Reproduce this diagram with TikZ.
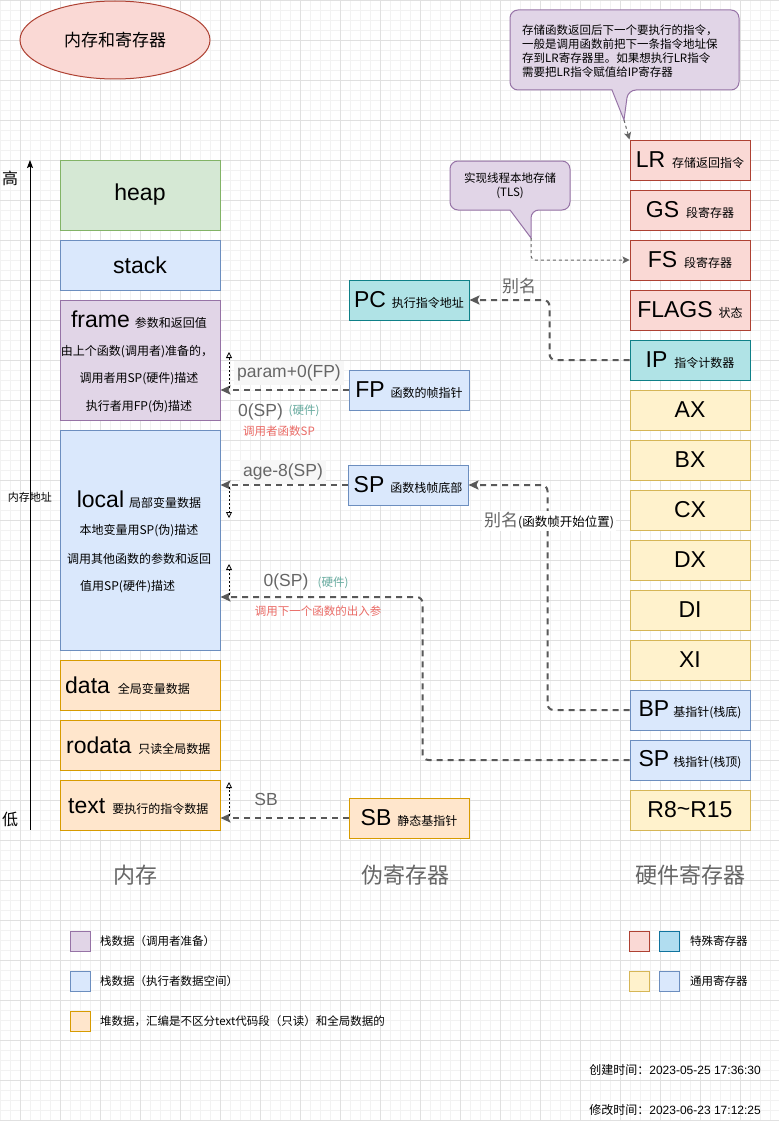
\documentclass[tikz,border=0pt]{standalone}
\usepackage{fontspec}
\setmainfont{Liberation Sans}
\newfontfamily\cjk{Noto Sans CJK SC}
\usetikzlibrary{arrows.meta,shapes.geometric}
\definecolor{redF}{HTML}{FAD9D5}\definecolor{redD}{HTML}{AE4132}
\definecolor{tealF}{HTML}{B0E3E6}\definecolor{tealD}{HTML}{0E8088}
\definecolor{yelF}{HTML}{FFF2CC}\definecolor{yelD}{HTML}{D6B656}
\definecolor{bluF}{HTML}{DAE8FC}\definecolor{bluD}{HTML}{6C8EBF}
\definecolor{grnF}{HTML}{D5E8D4}\definecolor{grnD}{HTML}{82B366}
\definecolor{purF}{HTML}{E1D5E7}\definecolor{purD}{HTML}{9673A6}
\definecolor{orgF}{HTML}{FFE6CC}\definecolor{orgD}{HTML}{D79B00}
\definecolor{skyF}{HTML}{B1DDF0}\definecolor{skyD}{HTML}{10739E}
\definecolor{edgeC}{HTML}{595959}
\definecolor{lblC}{HTML}{666666}
\definecolor{hwC}{HTML}{67AB9F}
\definecolor{rdC}{HTML}{EA6B66}
\definecolor{lblBg}{HTML}{F7F7F7}
\definecolor{gridMinor}{HTML}{F2F2F2}
\definecolor{gridMajor}{HTML}{E0E0E0}
\newcommand\myfs[1]{\fontsize{#1}{#1}\selectfont}
\newcommand\bigt[1]{{\myfs{23}#1}}
\newcommand\subt[1]{{\cjk\myfs{12}#1}}
\tikzset{
  mem/.style={draw, line width=1pt, minimum width=160, minimum height=#1, inner sep=0pt},
  reg/.style={draw, line width=1pt, minimum width=120, minimum height=40, inner sep=0pt},
  edgeln/.style={draw=edgeC, line width=2pt, dash pattern=on 6pt off 5pt, rounded corners=6pt,
    -{Stealth[length=10pt,width=9pt,inset=2pt]}},
  dotarr/.style={draw=black, line width=0.8pt, dash pattern=on 2pt off 2pt,
    -{Triangle[open,length=6pt,width=6pt]}},
  thinedge/.style={draw=lblC, line width=1pt, dash pattern=on 3pt off 3pt, rounded corners=4pt,
    -{Stealth[length=7pt,width=7pt,inset=1.5pt]}},
  lbl/.style={text=lblC, font=\myfs{17.5}, inner sep=1pt},
  hwlbl/.style={text=hwC, font=\cjk\myfs{11.5}, inner sep=0pt},
  rdlbl/.style={text=rdC, font=\cjk\myfs{11.5}, inner sep=0pt},
  callout/.style={draw=purD, fill=purF, line width=1pt},
  legsq/.style={draw, line width=1pt, minimum width=20, minimum height=20, inner sep=0pt},
  legt/.style={anchor=west, font=\cjk\myfs{11.5}, inner sep=0pt},
  collbl/.style={text=lblC, font=\cjk\myfs{22}, inner sep=0pt},
  memt/.style={font=\cjk\myfs{12}, inner sep=0pt}
}
\begin{document}
\begin{tikzpicture}[x=1pt,y=-1pt]
\useasboundingbox (0,0) rectangle (779,1121);
\fill[white] (0,0) rectangle (779,1121);
% grid
\foreach \x in {0,10,...,770} \draw[gridMinor, line width=0.6pt] (\x,0) -- (\x,1121);
\foreach \y in {0,10,...,1120} \draw[gridMinor, line width=0.6pt] (0,\y) -- (779,\y);
\foreach \x in {20,60,...,760} \draw[gridMajor, line width=0.7pt] (\x,0) -- (\x,1121);
\foreach \y in {0,40,...,1120} \draw[gridMajor, line width=0.7pt] (0,\y) -- (779,\y);

% title
\node[ellipse, draw=redD, fill=redF, line width=1pt, minimum width=190, minimum height=78, inner sep=0pt]
  (title) at (115,40) {\cjk\myfs{17}内存和寄存器};

% axis
\coordinate (axlo) at (30,830);
\coordinate (axhi) at (30,160);
\draw[line width=1pt, -{Stealth[length=8pt,width=6pt,inset=1.5pt]}] (axlo) -- (axhi);
\node[font=\cjk\myfs{16}, inner sep=0pt] (hi) at (10,178) {高};
\node[font=\cjk\myfs{16}, inner sep=0pt] (lo) at (10,819) {低};
\node[font=\cjk\myfs{11}, inner sep=0pt] (addr) at (30,497) {内存地址};

% memory
\node[mem=70, fill=grnF, draw=grnD] (heap) at (140,195) {\bigt{heap}};
\node[mem=50, fill=bluF, draw=bluD] (stack) at (140,265) {\bigt{stack}};
\node[mem=120, fill=purF, draw=purD] (frame) at (140,360) {};
\node[mem=220, fill=bluF, draw=bluD] (local) at (140,540) {};
\node[mem=50, fill=orgF, draw=orgD] (data) at (140,685) {};
\node[mem=50, fill=orgF, draw=orgD] (rodata) at (140,745) {};
\node[mem=50, fill=orgF, draw=orgD] (txtseg) at (140,805) {};

\node[anchor=base, inner sep=0pt] (frameA) at (139,327) {\bigt{frame}\hspace{5pt}\subt{参数和返回值}};
\node[memt] (frameB) at (137,352) {由上个函数(调用者)准备的，};
\node[memt] (frameC) at (139,379) {调用者用SP(硬件)描述};
\node[memt] (frameD) at (139,407) {执行者用FP(伪)描述};

\node[anchor=base, inner sep=0pt] (localA) at (139,507) {\bigt{local}\hspace{5pt}\subt{局部变量数据}};
\node[memt] (localB) at (139,531) {本地变量用SP(伪)描述};
\node[memt] (localC) at (139,559) {调用其他函数的参数和返回};
\node[memt, anchor=west] (localD) at (80,587) {值用SP(硬件)描述};

\node[anchor=base west, inner sep=0pt] (dataT) at (65,693) {\bigt{data}\hspace{8pt}\subt{全局变量数据}};
\node[anchor=base west, inner sep=0pt] (rodataT) at (66,753) {\bigt{rodata}\hspace{7pt}\subt{只读全局数据}};
\node[anchor=base west, inner sep=0pt] (textT) at (68,813) {\bigt{text}\hspace{7pt}\subt{要执行的指令数据}};

% pseudo registers
\node[reg, fill=tealF, draw=tealD] (pc) at (409,300) {\bigt{PC}\hspace{6pt}\subt{执行指令地址}};
\node[reg, fill=bluF, draw=bluD] (fp) at (409,390) {\bigt{FP}\hspace{6pt}\subt{函数的帧指针}};
\node[reg, fill=bluF, draw=bluD] (psp) at (408,485) {\bigt{SP}\hspace{6pt}\subt{函数栈帧底部}};
\node[reg, fill=orgF, draw=orgD] (sb) at (409,818) {\bigt{SB}\hspace{6pt}\subt{静态基指针}};

% hardware registers
\node[reg, fill=redF, draw=redD] (lr) at (690,160) {\bigt{LR}\hspace{7pt}\subt{存储返回指令}};
\node[reg, fill=redF, draw=redD] (gs) at (690,210) {\bigt{GS}\hspace{7pt}\subt{段寄存器}};
\node[reg, fill=redF, draw=redD] (fs) at (690,260) {\bigt{FS}\hspace{7pt}\subt{段寄存器}};
\node[reg, fill=redF, draw=redD] (flags) at (690,310) {\bigt{FLAGS}\hspace{6pt}\subt{状态}};
\node[reg, fill=tealF, draw=tealD] (ip) at (690,360) {\bigt{IP}\hspace{7pt}\subt{指令计数器}};
\node[reg, fill=yelF, draw=yelD] (ax) at (690,410) {\bigt{AX}};
\node[reg, fill=yelF, draw=yelD] (bx) at (690,460) {\bigt{BX}};
\node[reg, fill=yelF, draw=yelD] (cx) at (690,510) {\bigt{CX}};
\node[reg, fill=yelF, draw=yelD] (dx) at (690,560) {\bigt{DX}};
\node[reg, fill=yelF, draw=yelD] (di) at (690,610) {\bigt{DI}};
\node[reg, fill=yelF, draw=yelD] (xi) at (690,660) {\bigt{XI}};
\node[reg, fill=bluF, draw=bluD] (bp) at (690,710) {\bigt{BP}\hspace{4pt}\subt{基指针(栈底)}};
\node[reg, fill=bluF, draw=bluD] (hsp) at (690,760) {\bigt{SP}\hspace{4pt}\subt{栈指针(栈顶)}};
\node[reg, fill=yelF, draw=yelD] (r8) at (690,810) {\bigt{R8\raisebox{1pt}{\char`~}R15}};

% callouts
\draw[callout, rounded corners=8pt] (600,10) -- (739,10) -- (739,90) -- (628,90) [sharp corners] -- (624,120) -- (612,90) [rounded corners=8pt] -- (510,90) -- (510,10) -- cycle;
\coordinate (ctip) at (624,120);
\node[anchor=west, align=left, font=\cjk\fontsize{11.5}{14.2}\selectfont, inner sep=0pt] (ctext) at (522,51)
  {存储函数返回后下一个要执行的指令，\\一般是调用函数前把下一条指令地址保\\存到LR寄存器里。如果想执行LR指令\\需要把LR指令赋值给IP寄存器};
\draw[callout, rounded corners=8pt] (510,161) -- (570,161) -- (570,210) -- (531,210) [sharp corners] -- (531,238) -- (510,210) [rounded corners=8pt] -- (450,210) -- (450,161) -- cycle;
\coordinate (ttip) at (531,238);
\node[align=center, font=\cjk\fontsize{11.5}{14}\selectfont, inner sep=0pt] (ttext) at (510,186)
  {实现线程本地存储\\(TLS)};
\draw[thinedge] (ctip) -- (lr.north west);
\draw[thinedge] (ttip) |- (fs.west);

% connectors
\draw[edgeln] (ip.west) -- ++(-80,0) |- (pc.east);
\draw[edgeln] (fp.west) -- (frame.east |- fp.west);
\draw[edgeln] (psp.west) -- (local.east |- psp.west);
\draw[edgeln] (bp.west) -- ++(-82,0) |- (psp.east);
\draw[edgeln] (hsp.west) -- ++(-207,0) |- (local.east |- 0,597);
\draw[edgeln] (sb.west) -- (txtseg.east |- sb.west);

% dotted small arrows
\coordinate (d1s) at (229,388); \coordinate (d1e) at (229,352);
\coordinate (d2s) at (229,487); \coordinate (d2e) at (229,518);
\coordinate (d3s) at (229,595); \coordinate (d3e) at (229,564);
\coordinate (d4s) at (229,816); \coordinate (d4e) at (229,782);
\draw[dotarr] (d1s) -- (d1e);
\draw[dotarr] (d2s) -- (d2e);
\draw[dotarr] (d3s) -- (d3e);
\draw[dotarr] (d4s) -- (d4e);

% edge labels
\node[lbl, font=\cjk\myfs{17}] (alias1) at (519,286) {别名};
\node[lbl, fill=lblBg, inner xsep=3pt, inner ysep=4pt] (lparam) at (289,373) {param+0(FP)};
\node[lbl] (l0sp1) at (260.5,412) {0(SP)};
\node[hwlbl] (lhw1) at (304,411) {(硬件)};
\node[rdlbl] (lcall1) at (279,431) {调用者函数SP};
\node[lbl, fill=lblBg, inner xsep=3pt, inner ysep=4pt] (lage) at (283,472) {age-8(SP)};
\node[lbl] (l0sp2) at (286,582) {0(SP)};
\node[hwlbl] (lhw2) at (333,583) {(硬件)};
\node[rdlbl] (lcall2) at (318,611) {调用下一个函数的出入参};
\node[lbl] (lsb) at (266,799) {SB};
\node[fill=white, inner sep=2pt] (alias2) at (549,521)
  {{\cjk\color{lblC}\myfs{17}别名}{\cjk\myfs{12.5}(函数帧开始位置)}};

% column labels
\node[collbl] (c1) at (135,875) {内存};
\node[collbl] (c2) at (405,875) {伪寄存器};
\node[collbl] (c3) at (690,875) {硬件寄存器};

% legend
\node[legsq, fill=purF, draw=purD] (lg1) at (80,941) {};
\node[legsq, fill=bluF, draw=bluD] (lg2) at (80,981) {};
\node[legsq, fill=orgF, draw=orgD] (lg3) at (80,1021) {};
\node[legt] (lt1) at (100,941) {栈数据（调用者准备）};
\node[legt] (lt2) at (100,981) {栈数据（执行者数据空间）};
\node[legt] (lt3) at (100,1021) {堆数据，汇编是不区分text代码段（只读）和全局数据的};
\node[legsq, fill=redF, draw=redD] (lg4) at (639,941) {};
\node[legsq, fill=skyF, draw=skyD] (lg5) at (669,941) {};
\node[legsq, fill=yelF, draw=yelD] (lg6) at (639,981) {};
\node[legsq, fill=bluF, draw=bluD] (lg7) at (669,981) {};
\node[legt] (lt4) at (690,941) {特殊寄存器};
\node[legt] (lt5) at (690,981) {通用寄存器};

% timestamps
\node[anchor=east, inner sep=0pt, font=\myfs{12}] (ctime) at (761,1070) {{\cjk 创建时间：}2023-05-25 17:36:30};
\node[anchor=east, inner sep=0pt, font=\myfs{12}] (mtime) at (761,1110) {{\cjk 修改时间：}2023-06-23 17:12:25};
\end{tikzpicture}
\end{document}
